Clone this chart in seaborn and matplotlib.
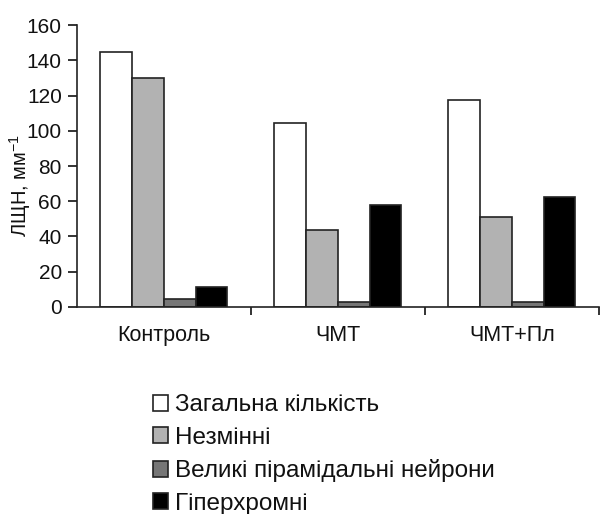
import pandas as pd
import seaborn as sns
import matplotlib.pyplot as plt

# data
groups = ["Контроль", "ЧМТ", "ЧМТ+Пл"]
series = ["Загальна кількість", "Незмінні", "Великі пірамідальні нейрони", "Гіперхромні"]
total = [145, 104.5, 117.5]
unchanged = [130, 43.5, 51]
pyramidal = [4.5, 3, 3]
hyperchrom = [11, 58, 62.5]
colors = ["#ffffff", "#b2b2b2", "#767676", "#000000"]

rows = []
for vals, name in zip([total, unchanged, pyramidal, hyperchrom], series):
    for g, v in zip(groups, vals):
        rows.append({"group": g, "series": name, "value": v})
df = pd.DataFrame(rows)

sns.set_style("white")
plt.rcParams["font.family"] = ["Liberation Sans", "DejaVu Sans"]
plt.rcParams["mathtext.fontset"] = "custom"
plt.rcParams["mathtext.rm"] = "Liberation Sans"
plt.rcParams["text.color"] = "#111111"
plt.rcParams["axes.labelcolor"] = "#111111"
plt.rcParams["xtick.color"] = "#111111"
plt.rcParams["ytick.color"] = "#111111"

fig = plt.figure(figsize=(6, 5.14), dpi=100)
ax = fig.add_axes([0.128, 0.403, 0.87, 0.548])

sns.barplot(data=df, x="group", y="value", hue="series", order=groups, hue_order=series,
            palette=colors, width=0.73, edgecolor="#222222", linewidth=1.2, saturation=1, ax=ax)

ax.set_xlim(-0.5, 2.5)
ax.set_ylim(0, 160)
ax.set_yticks(range(0, 161, 20))
ax.set_ylabel("ЛЩН, мм$^{-1}$", fontsize=14.5)
ax.yaxis.set_label_coords(-0.084, 0.43)
ax.set_xlabel("")
ax.tick_params(axis="y", labelsize=15, direction="out", length=6.5, width=1.2, left=True, pad=4.3)
ax.tick_params(axis="x", labelsize=15.5, length=0, pad=13)
ax.set_xticks([0.5, 1.5, 2.5], minor=True)
ax.tick_params(axis="x", which="minor", direction="out", length=6, width=1.2, bottom=True)
for s in ["top", "right"]:
    ax.spines[s].set_visible(False)
for s in ["left", "bottom"]:
    ax.spines[s].set_color("#222222")
    ax.spines[s].set_linewidth(1.2)

ax.legend(loc="upper left", bbox_to_anchor=(0.146, -0.311), frameon=False, fontsize=17.5,
          handlelength=0.62, handleheight=0.62, handletextpad=0.3, labelspacing=0.43,
          borderaxespad=0, borderpad=0)

fig.savefig("out.png", dpi=100)
